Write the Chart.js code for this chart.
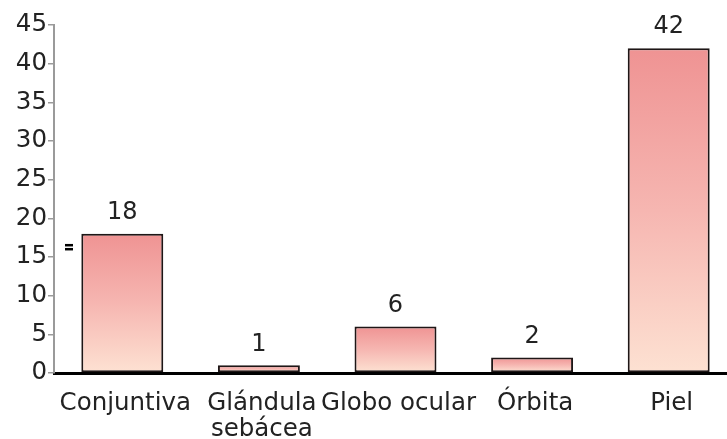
<!DOCTYPE html>
<html>
<head>
<meta charset="utf-8">
<script src="https://cdn.jsdelivr.net/npm/chart.js@4/dist/chart.umd.min.js"></script>
<style>
  html, body { margin: 0; padding: 0; background: #fff; overflow: hidden; }
  #wrap { width: 740px; height: 439px; position: relative; }
</style>
</head>
<body>
<div id="wrap"><canvas id="c"></canvas></div>
<script>
const categories = ['Conjuntiva', ['Glándula', 'sebácea'], 'Globo ocular', 'Órbita', 'Piel'];
const counts = [18, 1, 6, 2, 42];
const yTicks = [0, 5, 10, 15, 20, 25, 30, 35, 40, 45];

const FONT = 'DejaVu Sans';
const TEXT = '#222';

function makeGradient(ctx, top, base) {
  const g = ctx.createLinearGradient(0, top, 0, base);
  g.addColorStop(0, '#ef9393');
  g.addColorStop(0.5, '#f6b6b1');
  g.addColorStop(1, '#fde1d2');
  return g;
}

function barGradient(context) {
  const chart = context.chart;
  const ys = chart.scales && chart.scales.y;
  if (!ys || context.raw === undefined) return '#f5b0ab';
  const top = ys.getPixelForValue(context.raw);
  const base = ys.getPixelForValue(0);
  if (!isFinite(top) || !isFinite(base) || top === base) return '#f5b0ab';
  return makeGradient(chart.ctx, top, base);
}

const gradientFix = {
  id: 'gradientFix',
  beforeDatasetsDraw(chart) {
    chart.getDatasetMeta(0).data.forEach(el => {
      if (isFinite(el.y) && isFinite(el.base) && el.options) {
        el.options.backgroundColor = makeGradient(chart.ctx, el.y, el.base);
      }
    });
  }
};

const valueLabels = {
  id: 'valueLabels',
  afterDatasetsDraw(chart) {
    const ctx = chart.ctx;
    ctx.save();
    ctx.font = '24px "' + FONT + '"';
    ctx.fillStyle = TEXT;
    ctx.textAlign = 'center';
    ctx.textBaseline = 'middle';
    const ds = chart.data.datasets[0];
    chart.getDatasetMeta(0).data.forEach((el, i) => {
      ctx.fillText(String(ds.data[i]), el.x, el.y - 21);
    });
    // small "=" marker left of the first bar, as in the reference
    const ys = chart.scales.y;
    const my = ys.getPixelForValue(16.3);
    const mx = chart.chartArea.left + 11;
    ctx.fillStyle = '#000';
    ctx.fillRect(mx, my - 3, 8, 2.5);
    ctx.fillRect(mx, my + 1, 8, 2.5);
    ctx.restore();
  }
};

new Chart(document.getElementById('c'), {
  type: 'bar',
  data: {
    labels: categories,
    datasets: [{
      data: counts,
      backgroundColor: barGradient,
      borderColor: '#1e1616',
      borderWidth: 2,
      borderSkipped: false,
      barPercentage: 0.6,
      categoryPercentage: 1.0
    }]
  },
  options: {
    responsive: true,
    maintainAspectRatio: false,
    animation: false,
    layout: { padding: { top: 25, right: 3, left: 0, bottom: 0 } },
    plugins: { legend: { display: false }, tooltip: { enabled: false } },
    scales: {
      x: {
        grid: { display: false },
        border: { display: true, color: '#000', width: 3 },
        ticks: {
          color: TEXT,
          font: { family: FONT, size: 24.5, lineHeight: 1.06 },
          padding: 10,
          labelOffset: 3,
          maxRotation: 0,
          autoSkip: false
        },
        afterFit(scale) { scale.height = 66; }
      },
      y: {
        min: 0,
        max: 45,
        afterBuildTicks(scale) { scale.ticks = yTicks.map(v => ({ value: v })); },
        grid: { drawOnChartArea: false, drawTicks: true, tickLength: 6, color: '#9a9a9a', lineWidth: 1.5 },
        border: { display: true, color: '#9a9a9a', width: 2 },
        ticks: {
          color: TEXT,
          font: { family: FONT, size: 24.5 },
          padding: 1
        },
        afterFit(scale) { scale.width = 54; }
      }
    }
  },
  plugins: [gradientFix, valueLabels]
});
</script>
</body>
</html>
